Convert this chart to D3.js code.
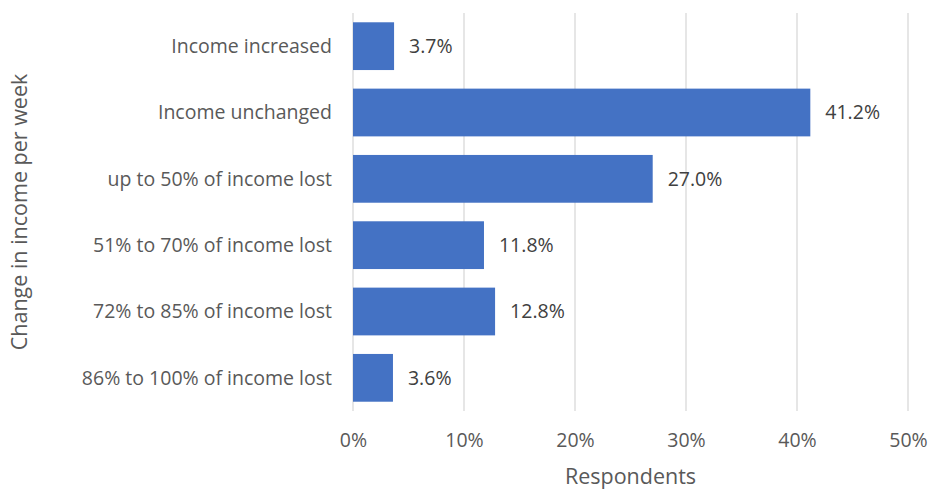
<!DOCTYPE html>
<html>
<head>
<meta charset="utf-8">
<script src="https://cdn.jsdelivr.net/npm/d3@7"></script>
<style>
  html, body { margin: 0; padding: 0; background: #fff; }
  svg { display: block; }
  text { font-family: "Open Sans", Lato, sans-serif; }
</style>
</head>
<body>
<svg id="chart" width="930" height="489"></svg>
<script>
const categories = [
  "Income increased",
  "Income unchanged",
  "up to 50% of income lost",
  "51% to 70% of income lost",
  "72% to 85% of income lost",
  "86% to 100% of income lost"
];
const values = [3.7, 41.2, 27.0, 11.8, 12.8, 3.6];
const xTicks = [0, 10, 20, 30, 40, 50];
const xTitle = "Respondents";
const yTitle = "Change in income per week";

const svg = d3.select("#chart");
const pLeft = 353, pRight = 908, pTop = 13, pBottom = 411;
const FONT = "'Open Sans', Lato, sans-serif";

const x = d3.scaleLinear().domain([0, 50]).range([pLeft, pRight]);
const y = d3.scaleBand().domain(categories).range([pTop, pBottom])
  .paddingInner(0.28).paddingOuter(0.14);

// gridlines
svg.append("g").selectAll("line").data(xTicks).join("line")
  .attr("x1", d => x(d)).attr("x2", d => x(d))
  .attr("y1", pTop).attr("y2", pBottom)
  .attr("stroke", "#d9d9d9").attr("stroke-width", 1.3);

// x axis labels
const xAxis = d3.axisBottom(x).tickValues(xTicks).tickFormat(d => d + "%").tickSize(0).tickPadding(0);
const gx = svg.append("g").attr("transform", `translate(0,${pBottom})`).call(xAxis);
gx.select(".domain").remove();
gx.selectAll("text").attr("dy", null).attr("y", 36)
  .attr("font-size", 19.5).attr("fill", "#595959").attr("font-family", FONT);

// y axis labels
const yAxis = d3.axisLeft(y).tickSize(0).tickPadding(0);
const gy = svg.append("g").attr("transform", `translate(332,0)`).call(yAxis);
gy.select(".domain").remove();
gy.selectAll("text").attr("dy", "0.35em").attr("x", 0)
  .attr("font-size", 19.5).attr("fill", "#595959").attr("font-family", FONT);

// bars
svg.append("g").selectAll("rect").data(values).join("rect")
  .attr("x", x(0))
  .attr("y", (d, i) => y(categories[i]))
  .attr("width", d => x(d) - x(0))
  .attr("height", y.bandwidth())
  .attr("fill", "#4472C4");

// data labels
svg.append("g").selectAll("text").data(values).join("text")
  .attr("x", d => x(d) + 15)
  .attr("y", (d, i) => y(categories[i]) + y.bandwidth() / 2)
  .attr("dy", "0.35em")
  .attr("font-size", 19.5).attr("fill", "#404040")
  .text(d => d.toFixed(1) + "%");

// axis titles
svg.append("text").attr("x", (pLeft + pRight) / 2).attr("y", 484)
  .attr("text-anchor", "middle").attr("font-size", 21.5).attr("fill", "#595959")
  .text(xTitle);
svg.append("text").attr("transform", `translate(27,${(pTop + pBottom) / 2}) rotate(-90)`)
  .attr("text-anchor", "middle").attr("font-size", 21.5).attr("fill", "#595959")
  .text(yTitle);
</script>
</body>
</html>
